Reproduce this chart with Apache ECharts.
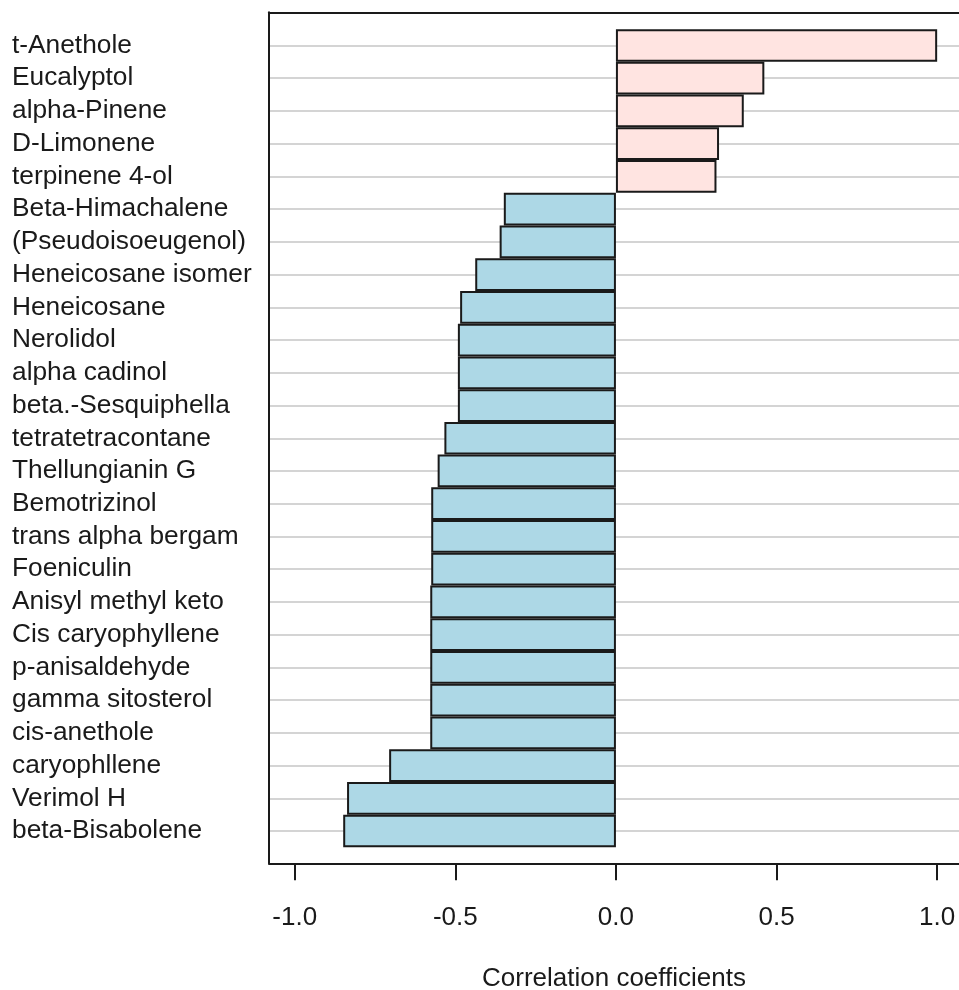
<!DOCTYPE html>
<html>
<head>
<meta charset="utf-8">
<script src="https://cdn.jsdelivr.net/npm/echarts@6/dist/echarts.min.js"></script>
<style>html,body{margin:0;padding:0;background:#fff;}#c{width:959px;height:990px;}</style>
</head>
<body>
<div id="c"></div>
<script>
const categories = ["t-Anethole","Eucalyptol","alpha-Pinene","D-Limonene","terpinene 4-ol","Beta-Himachalene","(Pseudoisoeugenol)","Heneicosane isomer","Heneicosane","Nerolidol","alpha cadinol","beta.-Sesquiphella","tetratetracontane","Thellungianin G","Bemotrizinol","trans alpha bergam","Foeniculin","Anisyl methyl keto","Cis caryophyllene","p-anisaldehyde","gamma sitosterol","cis-anethole","caryophllene","Verimol H","beta-Bisabolene"];
const values = [1.0,0.462,0.398,0.321,0.313,-0.349,-0.362,-0.438,-0.485,-0.492,-0.492,-0.492,-0.534,-0.555,-0.575,-0.575,-0.575,-0.578,-0.578,-0.578,-0.578,-0.578,-0.706,-0.837,-0.849];
const tickValues = [-1.0,-0.5,0.0,0.5,1.0];
const xLabel = "Correlation coefficients";

const posColor = "#FFE4E1";
const negColor = "#ADD8E6";
const font = "'Liberation Sans', Arial, sans-serif";
const ink = '#1a1a1a';
const xMin = -1.08, xMax = 1.068;

const chart = echarts.init(document.getElementById('c'), null, {renderer:'canvas'});
chart.setOption({
  animation: false,
  backgroundColor: '#fff',
  grid: [
    {left: 269, top: 12.3, right: 0, height: 851, outerBoundsMode: 'none', containLabel: false},
    {left: 269, top: 45.5, right: 0, height: 785.5, outerBoundsMode: 'none', containLabel: false}
  ],
  xAxis: [
    {gridIndex: 0, type: 'value', min: xMin, max: xMax, position: 'bottom',
     axisLine: {show: true, onZero: false, lineStyle: {color: ink, width: 2}},
     splitLine: {show: false},
     axisTick: {show: true, customValues: tickValues, length: 17, lineStyle: {color: ink, width: 2}},
     axisLabel: {show: true, customValues: tickValues, margin: 42, fontSize: 26, color: ink, fontFamily: font,
       formatter: v => v.toFixed(1)},
     name: xLabel, nameLocation: 'middle', nameGap: 103,
     nameTextStyle: {fontSize: 26, color: ink, fontFamily: font}
    },
    {gridIndex: 0, type: 'value', min: xMin, max: xMax, position: 'top',
     axisLine: {show: true, onZero: false, lineStyle: {color: ink, width: 2}},
     axisTick: {show: false}, axisLabel: {show: false}, splitLine: {show: false}},
    {gridIndex: 1, type: 'value', min: xMin, max: xMax, show: false}
  ],
  yAxis: [
    {gridIndex: 0, type: 'value', position: 'left',
     axisLine: {show: true, onZero: false, lineStyle: {color: ink, width: 2}},
     axisTick: {show: false}, axisLabel: {show: false}, splitLine: {show: false}},
    {gridIndex: 1, type: 'category', data: categories, inverse: true, boundaryGap: false,
     axisLine: {show: false}, axisTick: {show: false},
     splitLine: {show: true, interval: 0, lineStyle: {color: '#d4d4d4', width: 2}},
     axisLabel: {interval: 0, align: 'left', margin: 257, fontSize: 26.3, color: ink, fontFamily: font}
    }
  ],
  series: [{
    type: 'bar', xAxisIndex: 2, yAxisIndex: 1, barWidth: '100%', clip: false,
    data: values.map(v => ({value: v, itemStyle: {color: v >= 0 ? posColor : negColor}})),
    itemStyle: {borderColor: ink, borderWidth: 2}
  }]
});
</script>
</body>
</html>
